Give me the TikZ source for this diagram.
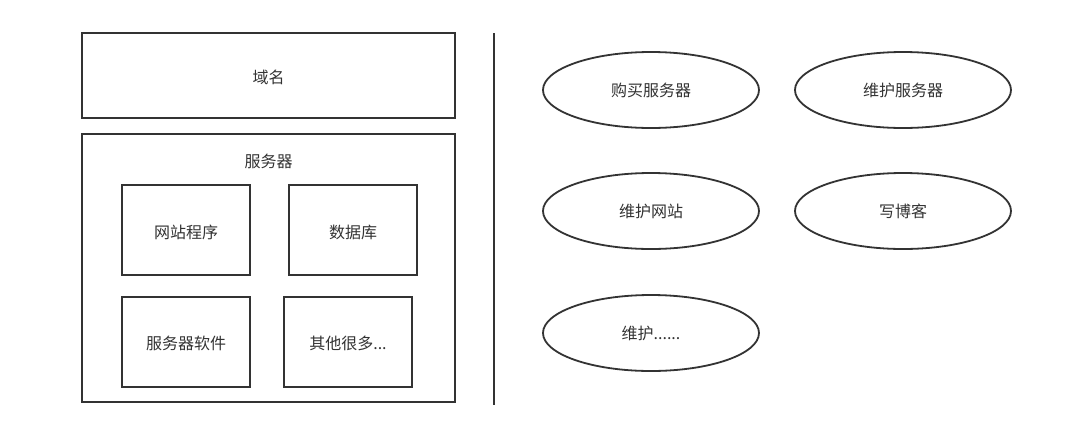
\documentclass[tikz,border=0pt]{standalone}
\usepackage{fontspec}
\setmainfont{Noto Sans CJK SC}
\usetikzlibrary{shapes.geometric}
\definecolor{ink}{HTML}{333333}
\begin{document}
\begin{tikzpicture}[x=1pt,y=-1pt,
  box/.style={draw=ink,line width=1.8pt,rectangle,inner sep=0pt},
  oval/.style={draw=ink,line width=1.8pt,ellipse,minimum width=216pt,minimum height=76pt,inner sep=0pt,text=ink,font=\fontsize{16}{19}\selectfont},
  lbl/.style={text=ink,font=\fontsize{16}{19}\selectfont}]
\useasboundingbox (0,0) rectangle (1080,437);
\fill[white] (0,0) rectangle (1080,437);
% left boxes
\draw[box] (82,33) rectangle (455,118);
\node[lbl] (domain) at (268.5,77) {域名};
\draw[box] (82,134) rectangle (455,402);
\node[lbl] (server) at (268.5,161) {服务器};
\draw[box] (122,185) rectangle (250,275);
\node[lbl] (site) at (186,232) {网站程序};
\draw[box] (289,185) rectangle (417,275);
\node[lbl] (db) at (353,232) {数据库};
\draw[box] (122,297) rectangle (250,387);
\node[lbl] (soft) at (186,343) {服务器软件};
\draw[box] (284,297) rectangle (412,387);
\node[lbl] (other) at (348,343) {其他很多...};
% divider
\coordinate (dtop) at (494,33);
\coordinate (dbot) at (494,405);
\draw[draw=ink,line width=1.8pt] (dtop) -- (dbot);
% ellipses
\node[oval] (buy) at (651,90) {购买服务器};
\node[oval] (maint) at (903,90) {维护服务器};
\node[oval] (msite) at (651,211) {维护网站};
\node[oval] (blog) at (903,211) {写博客};
\node[oval] (more) at (651,333) {维护......};
\end{tikzpicture}
\end{document}
